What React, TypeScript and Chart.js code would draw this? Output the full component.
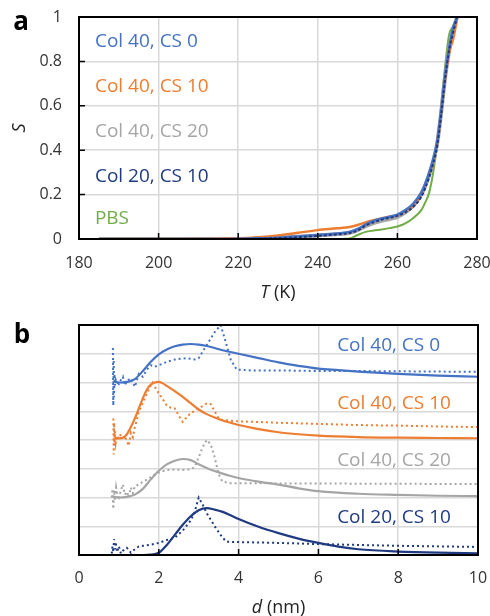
import React, { useEffect, useRef } from "react";
import { Chart, registerables } from "chart.js";
Chart.register(...registerables);

const FONT = "'Open Sans', sans-serif";

// ---------- Panel a : S vs T ----------
const tempK = [185, 195, 205, 215, 220, 225, 230, 235, 240, 245, 248, 250, 252, 254, 256, 258, 260, 262, 264, 266, 267, 268, 269, 270, 271, 272, 273, 274, 275];
const sCol40Cs0 = [0, 0, 0, 0, 0.001, 0.003, 0.006, 0.011, 0.018, 0.025, 0.032, 0.045, 0.065, 0.082, 0.092, 0.1, 0.11, 0.13, 0.16, 0.21, 0.25, 0.3, 0.36, 0.44, 0.58, 0.74, 0.86, 0.95, 1.0];
const sCol40Cs10 = [0, 0, 0, 0.001, 0.003, 0.008, 0.016, 0.028, 0.04, 0.048, 0.054, 0.063, 0.075, 0.085, 0.093, 0.1, 0.108, 0.125, 0.15, 0.2, 0.24, 0.29, 0.35, 0.43, 0.57, 0.72, 0.84, 0.9, 0.99];
const sCol40Cs20 = [0, 0, 0, 0, 0, 0.002, 0.005, 0.01, 0.016, 0.022, 0.028, 0.04, 0.058, 0.072, 0.082, 0.09, 0.1, 0.12, 0.15, 0.2, 0.24, 0.29, 0.35, 0.43, 0.57, 0.73, 0.85, 0.94, 1.0];
const sCol20Cs10 = [0, 0, 0, 0, 0, 0.001, 0.004, 0.008, 0.014, 0.021, 0.027, 0.038, 0.06, 0.075, 0.087, 0.095, 0.104, 0.12, 0.145, 0.19, 0.23, 0.28, 0.34, 0.42, 0.56, 0.72, 0.85, 0.93, 1.0];
const sPBS = [0, 0, 0, 0, 0, 0, 0, 0, 0, 0, 0.002, 0.018, 0.032, 0.038, 0.043, 0.049, 0.056, 0.07, 0.095, 0.13, 0.165, 0.21, 0.3, 0.43, 0.6, 0.78, 0.92, 0.96, 1.0];

const seriesNames = ["Col 40, CS 0", "Col 40, CS 10", "Col 40, CS 20", "Col 20, CS 10", "PBS"];
const seriesColors = ["#4472C4", "#ED7D31", "#A5A5A5", "#1F3A80", "#70AD47"];
const panelALabelT = [184, 184, 184, 184, 184];
const panelALabelS = [0.887, 0.685, 0.486, 0.279, 0.09];

// ---------- Panel b : size distributions (offset) ----------
const dFitCs0 = [0.9, 1.0, 1.2, 1.4, 1.6, 1.8, 2.0, 2.2, 2.4, 2.6, 2.8, 3.0, 3.2, 3.4, 3.6, 3.8, 4.0, 4.5, 5.0, 5.5, 6.0, 6.5, 7.0, 8.0, 9.0, 10.0];
const fitCs0 = [6.02, 6.0, 6.02, 6.12, 6.4, 6.72, 6.98, 7.15, 7.26, 7.32, 7.34, 7.32, 7.27, 7.2, 7.12, 7.06, 7.0, 6.85, 6.7, 6.58, 6.48, 6.43, 6.38, 6.3, 6.24, 6.2];
const dRawCs0 = [0.85, 0.86, 0.87, 0.88, 0.89, 0.9, 0.92, 0.95, 1.0, 1.05, 1.1, 1.15, 1.2, 1.3, 1.4, 1.5, 1.6, 1.7, 1.8, 1.9, 2.0, 2.2, 2.4, 2.7, 2.9, 3.0, 3.2, 3.4, 3.55, 3.7, 3.8, 3.95, 4.3, 5, 6, 7, 8, 9, 10];
const rawCs0 = [7.2, 5.2, 6.8, 5.5, 6.3, 5.9, 6.1, 6.0, 5.95, 6.1, 6.2, 5.9, 6.05, 6.15, 5.85, 6.3, 6.2, 6.45, 6.6, 6.55, 6.6, 6.72, 6.8, 6.85, 6.8, 6.85, 7.3, 7.75, 8.0, 7.3, 6.8, 6.45, 6.42, 6.42, 6.4, 6.4, 6.39, 6.38, 6.37];

const dFitCs10 = [0.9, 1.0, 1.1, 1.2, 1.3, 1.4, 1.5, 1.6, 1.7, 1.8, 1.9, 2.0, 2.1, 2.2, 2.4, 2.6, 2.8, 3.0, 3.2, 3.4, 3.6, 3.8, 4.0, 4.5, 5.0, 5.5, 6.0, 7.0, 8.0, 9.0, 10.0];
const fitCs10 = [4.07, 4.06, 4.08, 4.2, 4.45, 4.75, 5.1, 5.45, 5.75, 5.93, 6.0, 6.02, 5.97, 5.88, 5.7, 5.5, 5.28, 5.06, 4.9, 4.78, 4.68, 4.6, 4.52, 4.38, 4.27, 4.2, 4.15, 4.1, 4.08, 4.07, 4.06];
const dRawCs10 = [0.86, 0.87, 0.88, 0.89, 0.9, 0.92, 0.95, 1.0, 1.05, 1.1, 1.15, 1.2, 1.25, 1.3, 1.35, 1.4, 1.45, 1.5, 1.6, 1.7, 1.8, 1.85, 1.9, 2.0, 2.1, 2.2, 2.3, 2.4, 2.5, 2.6, 2.7, 2.8, 3.0, 3.2, 3.3, 3.4, 3.5, 3.6, 3.8, 4.0, 5, 6, 7, 8, 9, 10];
const rawCs10 = [4.75, 3.5, 4.6, 3.8, 4.3, 3.9, 4.15, 4.05, 4.2, 4.0, 4.15, 3.95, 3.8, 4.25, 4.1, 4.45, 4.7, 5.0, 5.3, 5.6, 5.9, 6.0, 5.85, 5.62, 5.42, 5.2, 5.12, 5.1, 4.85, 4.63, 4.8, 4.93, 5.1, 5.27, 5.25, 5.0, 4.75, 4.7, 4.67, 4.65, 4.6, 4.56, 4.52, 4.5, 4.47, 4.45];

const dFitCs20 = [0.85, 1.0, 1.2, 1.4, 1.6, 1.8, 2.0, 2.2, 2.4, 2.6, 2.8, 3.0, 3.2, 3.4, 3.6, 3.8, 4.0, 4.5, 5.0, 5.5, 6.0, 7.0, 8.0, 9.0, 10.0];
const fitCs20 = [2.02, 2.0, 2.02, 2.1, 2.3, 2.63, 2.93, 3.15, 3.28, 3.34, 3.3, 3.16, 3.03, 2.92, 2.83, 2.75, 2.68, 2.55, 2.45, 2.32, 2.22, 2.13, 2.09, 2.06, 2.05];
const dRawCs20 = [0.82, 0.84, 0.86, 0.88, 0.9, 0.93, 0.96, 1.0, 1.05, 1.1, 1.15, 1.2, 1.25, 1.3, 1.35, 1.4, 1.5, 1.6, 1.7, 1.8, 1.9, 2.0, 2.2, 2.4, 2.6, 2.8, 2.9, 3.0, 3.1, 3.2, 3.3, 3.4, 3.5, 3.6, 3.8, 4.0, 5, 6, 7, 8, 9, 10];
const rawCs20 = [2.0, 2.3, 1.6, 2.25, 1.9, 2.35, 2.1, 2.0, 2.25, 2.45, 2.1, 2.2, 2.0, 2.35, 2.15, 2.4, 2.45, 2.55, 2.62, 2.7, 2.8, 2.87, 2.96, 2.97, 2.96, 2.98, 3.06, 3.4, 3.75, 4.0, 3.85, 3.4, 2.8, 2.55, 2.5, 2.5, 2.49, 2.49, 2.48, 2.48, 2.47, 2.47];

const dFitCol20 = [0.85, 1.0, 1.2, 1.4, 1.6, 1.8, 2.0, 2.2, 2.4, 2.6, 2.8, 3.0, 3.2, 3.4, 3.6, 3.8, 4.0, 4.5, 5.0, 5.5, 6.0, 6.5, 7.0, 8.0, 9.0, 10.0];
const fitCol20 = [0, 0, 0, 0, 0, 0.01, 0.08, 0.35, 0.7, 1.05, 1.35, 1.56, 1.63, 1.58, 1.5, 1.38, 1.25, 0.98, 0.76, 0.57, 0.42, 0.29, 0.2, 0.12, 0.08, 0.06];
const dRawCol20 = [0.82, 0.84, 0.86, 0.88, 0.9, 0.92, 0.95, 1.0, 1.05, 1.1, 1.2, 1.3, 1.4, 1.5, 1.6, 1.8, 2.0, 2.2, 2.4, 2.6, 2.8, 2.9, 3.0, 3.1, 3.2, 3.4, 3.6, 3.7, 4.0, 5, 6, 7, 8, 9, 10];
const rawCol20 = [0.05, 0.3, 0.1, 0.55, 0.2, 0.45, 0.1, 0.3, 0.05, 0.15, 0.25, 0.08, 0.2, 0.3, 0.32, 0.36, 0.42, 0.52, 0.6, 0.85, 1.2, 1.5, 2.0, 1.75, 1.46, 1.0, 0.6, 0.46, 0.45, 0.42, 0.38, 0.35, 0.32, 0.3, 0.28];

const panelBLabelD = [6.47, 6.47, 6.47, 6.47];
const panelBLabelY = [7.3, 5.25, 3.27, 1.29];

type Ann = { text: string; x: number; y: number; color: string };
type FrameOpts = {
  labels: Ann[];
  yTicks: boolean;
  letter: string;
  letterPos: [number, number];
  xTitle: { italic: string; rest: string; y: number };
  yTitle?: { text: string; x: number; y: number };
};

const zip = (xs: number[], ys: number[]) => xs.map((x, i) => ({ x, y: ys[i] }));

function makeFrame(o: FrameOpts) {
  return {
    id: "frame",
    afterDatasetsDraw(chart: any) {
      const { ctx, chartArea: a, scales } = chart;
      ctx.save();
      ctx.strokeStyle = "#000";
      ctx.lineWidth = 1.5;
      ctx.beginPath();
      for (const t of scales.x.ticks) {
        const px = scales.x.getPixelForValue(t.value);
        ctx.moveTo(px, a.bottom);
        ctx.lineTo(px, a.bottom - 6);
      }
      if (o.yTicks) {
        for (const t of scales.y.ticks) {
          const py = scales.y.getPixelForValue(t.value);
          ctx.moveTo(a.left, py);
          ctx.lineTo(a.left + 6, py);
        }
      }
      ctx.stroke();
      ctx.lineWidth = 2;
      ctx.strokeRect(a.left, a.top, a.right - a.left, a.bottom - a.top);
      ctx.font = `19px ${FONT}`;
      ctx.textBaseline = "middle";
      ctx.textAlign = "left";
      for (const an of o.labels) {
        ctx.fillStyle = an.color;
        ctx.fillText(an.text, scales.x.getPixelForValue(an.x), scales.y.getPixelForValue(an.y));
      }
      ctx.restore();
    },
    afterDraw(chart: any) {
      const { ctx, chartArea: a } = chart;
      ctx.save();
      ctx.fillStyle = "#000";
      ctx.textBaseline = "middle";
      ctx.textAlign = "center";
      ctx.font = `bold 26px ${FONT}`;
      ctx.fillText(o.letter, o.letterPos[0], o.letterPos[1]);
      ctx.fillStyle = "#222";
      const cx = (a.left + a.right) / 2;
      ctx.textAlign = "left";
      ctx.font = `italic 18px ${FONT}`;
      const w1 = ctx.measureText(o.xTitle.italic).width;
      ctx.font = `18px ${FONT}`;
      const w2 = ctx.measureText(o.xTitle.rest).width;
      const x0 = cx - (w1 + w2) / 2;
      ctx.font = `italic 18px ${FONT}`;
      ctx.fillText(o.xTitle.italic, x0, o.xTitle.y);
      ctx.font = `18px ${FONT}`;
      ctx.fillText(o.xTitle.rest, x0 + w1, o.xTitle.y);
      if (o.yTitle) {
        ctx.translate(o.yTitle.x, o.yTitle.y);
        ctx.rotate(-Math.PI / 2);
        ctx.textAlign = "center";
        ctx.font = `italic 18px ${FONT}`;
        ctx.fillText(o.yTitle.text, 0, 0);
      }
      ctx.restore();
    },
  };
}

const gridOpts = { color: "#d9d9d9", lineWidth: 1.5, drawTicks: false };
const tickFont = { family: FONT, size: 16 };
const fmt = (v: any) => String(Number(Number(v).toFixed(2)));

function buildA(canvas: HTMLCanvasElement) {
  const sets = [sCol20Cs10, sCol40Cs0, sCol40Cs10, sCol40Cs20, sPBS];
  const idx = [3, 0, 1, 2, 4];
  const widths = [2, 2.5, 2.5, 4, 2];
  const datasets = idx.map((k, i) => ({
    label: seriesNames[k],
    data: zip(tempK, sets[i]),
    borderColor: seriesColors[k],
    borderWidth: widths[i],
    borderDash: k === 3 ? [3, 2] : [],
    pointRadius: 0,
    cubicInterpolationMode: "monotone" as const,
  }));
  return new Chart(canvas, {
    type: "line",
    data: { datasets },
    options: {
      responsive: false,
      animation: false,
      layout: { padding: { left: 0, right: 13, top: 17, bottom: 0 } },
      plugins: { legend: { display: false }, tooltip: { enabled: false } },
      scales: {
        x: {
          type: "linear",
          min: 180,
          max: 280,
          grid: gridOpts,
          border: { display: false },
          ticks: { stepSize: 20, font: tickFont, color: "#333", padding: 15, maxRotation: 0, callback: fmt },
          afterFit: (s: any) => { s.height = 71; s.paddingLeft = 0; s.paddingRight = 0; },
        },
        y: {
          type: "linear",
          min: 0,
          max: 1,
          grid: gridOpts,
          border: { display: false },
          ticks: { stepSize: 0.2, font: tickFont, color: "#333", padding: 17, callback: fmt },
          afterFit: (s: any) => { s.width = 79; s.paddingTop = 0; s.paddingBottom = 0; },
        },
      },
    },
    plugins: [
      makeFrame({
        labels: seriesNames.map((t, i) => ({ text: t, x: panelALabelT[i], y: panelALabelS[i], color: seriesColors[i] })),
        yTicks: true,
        letter: "a",
        letterPos: [21, 23],
        xTitle: { italic: "T", rest: " (K)", y: 293 },
        yTitle: { text: "S", x: 20, y: 128 },
      }),
    ],
  });
}

function buildB(canvas: HTMLCanvasElement) {
  const fits = [
    [dFitCs0, fitCs0, 0],
    [dFitCs10, fitCs10, 1],
    [dFitCs20, fitCs20, 2],
    [dFitCol20, fitCol20, 3],
  ] as [number[], number[], number][];
  const raws = [
    [dRawCs0, rawCs0, 0],
    [dRawCs10, rawCs10, 1],
    [dRawCs20, rawCs20, 2],
    [dRawCol20, rawCol20, 3],
  ] as [number[], number[], number][];
  const datasets: any[] = [];
  fits.forEach(([d, v, k]) =>
    datasets.push({
      label: seriesNames[k] + " fit",
      data: zip(d, v),
      borderColor: seriesColors[k],
      borderWidth: 2.2,
      pointRadius: 0,
      cubicInterpolationMode: "monotone",
    })
  );
  raws.forEach(([d, v, k]) =>
    datasets.push({
      label: seriesNames[k],
      data: zip(d, v),
      borderColor: seriesColors[k],
      borderWidth: 2,
      borderDash: [2, 3],
      pointRadius: 0,
      tension: 0,
    })
  );
  return new Chart(canvas, {
    type: "line",
    data: { datasets },
    options: {
      responsive: false,
      animation: false,
      layout: { padding: { left: 0, right: 12, top: 15, bottom: 0 } },
      plugins: { legend: { display: false }, tooltip: { enabled: false } },
      scales: {
        x: {
          type: "linear",
          min: 0,
          max: 10,
          grid: gridOpts,
          border: { display: false },
          ticks: { stepSize: 2, font: tickFont, color: "#333", padding: 14, maxRotation: 0 },
          afterFit: (s: any) => { s.height = 61; s.paddingLeft = 0; s.paddingRight = 0; },
        },
        y: {
          type: "linear",
          min: 0,
          max: 8,
          grid: gridOpts,
          border: { display: false },
          ticks: { stepSize: 1, display: false },
          afterFit: (s: any) => { s.width = 79; s.paddingTop = 0; s.paddingBottom = 0; },
        },
      },
    },
    plugins: [
      makeFrame({
        labels: seriesNames.slice(0, 4).map((t, i) => ({ text: t, x: panelBLabelD[i], y: panelBLabelY[i], color: seriesColors[i] })),
        yTicks: false,
        letter: "b",
        letterPos: [22, 26],
        xTitle: { italic: "d", rest: " (nm)", y: 298 },
      }),
    ],
  });
}

export default function App() {
  const refA = useRef<HTMLCanvasElement>(null);
  const refB = useRef<HTMLCanvasElement>(null);
  useEffect(() => {
    const a = buildA(refA.current!);
    const b = buildB(refB.current!);
    return () => {
      a.destroy();
      b.destroy();
    };
  }, []);
  return (
    <div style={{ position: "absolute", left: 0, top: 0, width: 490, height: 616, background: "#fff", overflow: "hidden" }}>
      <canvas ref={refA} width={490} height={310} style={{ position: "absolute", left: 0, top: 0, width: 490, height: 310 }} />
      <canvas ref={refB} width={490} height={306} style={{ position: "absolute", left: 0, top: 310, width: 490, height: 306 }} />
    </div>
  );
}
